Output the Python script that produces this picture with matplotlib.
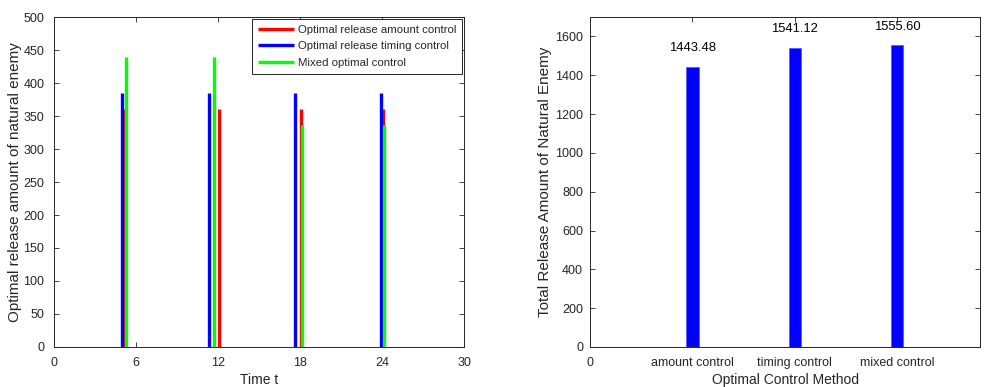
import matplotlib
matplotlib.use("Agg")
import matplotlib.pyplot as plt

plt.rcParams['font.family'] = ['Liberation Sans', 'DejaVu Sans']

# Release schedules (time, amount) for each strategy
amount_t = [5.08, 12.05, 18.07, 24.07]
amount_v = [360, 360, 360, 360]
timing_t = [5.0, 11.37, 17.6, 23.92]
timing_v = [385, 385, 385, 385]
mixed_t = [5.26, 11.69, 18.18, 24.12]
mixed_v = [440, 440, 336, 336]

# Totals per method
methods = ['amount control', 'timing control', 'mixed control']
totals = [1443.48, 1541.12, 1555.60]

ink = '#262626'

fig = plt.figure(figsize=(9.9, 3.87), dpi=100)
ax1 = fig.add_axes([0.0545, 0.1034, 0.4142, 0.8526])
ax2 = fig.add_axes([0.596, 0.1034, 0.394, 0.8526])

for ax in (ax1, ax2):
    ax.tick_params(direction='in', top=True, right=True, labelsize=9,
                   colors=ink, length=3.5, width=0.6)
    ax.tick_params(axis='x', pad=7)
    for s in ax.spines.values():
        s.set_color(ink)
        s.set_linewidth(0.7)
ax1.tick_params(axis='y', pad=7)
ax2.tick_params(axis='y', pad=5)

lw = 2.4
ax1.vlines(amount_t, 0, amount_v, color='#ff0000', lw=lw, label='Optimal release amount control')
ax1.vlines(timing_t, 0, timing_v, color='#0000ff', lw=lw, label='Optimal release timing control')
ax1.vlines(mixed_t, 0, mixed_v, color='#00ff00', lw=lw, label='Mixed optimal control')
ax1.set_xlim(0, 30)
ax1.set_ylim(0, 500)
ax1.set_xticks(range(0, 31, 6))
ax1.set_yticks(range(0, 501, 50))
ax1.set_xlabel('Time t', fontsize=10, color=ink, va='center')
ax1.set_ylabel('Optimal release amount of natural enemy', fontsize=11, color=ink, va='center')
ax1.xaxis.set_label_coords(0.5, -0.10)
ax1.yaxis.set_label_coords(-0.095, 0.5)
leg = ax1.legend(loc='upper right', prop={'size': 8.2}, frameon=True, fancybox=False,
                 borderaxespad=0.15, handlelength=3.2, handletextpad=0.3,
                 labelspacing=0.55, borderpad=0.55)
leg.get_frame().set_edgecolor(ink)
leg.get_frame().set_linewidth(0.7)
leg.get_frame().set_alpha(1)
for t in leg.get_texts():
    t.set_color(ink)

pos = [1, 2, 3]
ax2.bar(pos, totals, width=0.12, color='#0000ff', edgecolor='#5a5aff', linewidth=0.6)
for x, v in zip(pos, totals):
    ax2.text(x, v + 95, f'{v:.2f}', ha='center', va='center', fontsize=9.4, color='black')
ax2.set_xlim(0, 3.81)
ax2.set_ylim(0, 1700)
ax2.set_xticks([0] + pos)
ax2.set_xticklabels(['0'] + methods)
ax2.set_yticks(range(0, 1601, 200))
ax2.set_xlabel('Optimal Control Method', fontsize=10, color=ink, va='center')
ax2.set_ylabel('Total Release Amount of Natural Enemy', fontsize=11, color=ink, va='center')
ax2.xaxis.set_label_coords(0.5, -0.10)
ax2.yaxis.set_label_coords(-0.115, 0.5)

fig.savefig('out.png', dpi=100)
